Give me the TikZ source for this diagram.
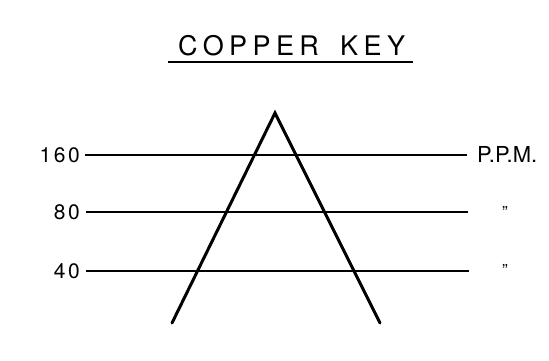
\documentclass[tikz,border=0pt]{standalone}
\usepackage{fontspec}
\setmainfont{TeX Gyre Heros}
\begin{document}
\begin{tikzpicture}[x=1pt,y=-1pt,
  lab/.style={inner sep=0pt,font=\fontsize{21}{21}\selectfont},
  titletext/.style={inner sep=0pt,anchor=base west,font=\fontsize{27}{27}\selectfont\addfontfeature{LetterSpace=20}},
  ditto/.style={inner sep=0pt,anchor=north,font=\fontsize{17}{17}\selectfont},
  thinrule/.style={line width=1.4pt},
  midrule/.style={line width=2.1pt},
  leg/.style={line width=3pt,line cap=round,line join=miter}]
\useasboundingbox (0,0) rectangle (549,360);
% title
\node[titletext] (title1) at (178,55) {COPPER};
\node[titletext] (title2) at (340,55) {KEY};
\coordinate (ulA) at (168,62);
\coordinate (ulB) at (413,62);
\draw[line width=2.8pt] (ulA) -- (ulB);
% level lines
\coordinate (a1) at (85,155); \coordinate (b1) at (467,155);
\coordinate (a2) at (86,212); \coordinate (b2) at (468,212);
\coordinate (a3) at (86,271); \coordinate (b3) at (469,271);
\draw[thinrule] (a1) -- (b1);
\draw[midrule] (a2) -- (b2);
\draw[thinrule] (a3) -- (b3);
% labels
\node[lab,anchor=east] (l160) at (80,155) {\addfontfeature{LetterSpace=12}160};
\node[lab,anchor=east] (l80) at (80,212) {\addfontfeature{LetterSpace=12}80};
\node[lab,anchor=east] (l40) at (80,271) {\addfontfeature{LetterSpace=12}40};
\node[lab,anchor=west,font=\fontsize{22}{22}\selectfont] (ppm) at (477,154) {P.P.M.};
\node[ditto] (d2) at (505,206) {"};
\node[ditto] (d3) at (505,264) {"};
% triangle
\coordinate (apex) at (275,113);
\coordinate (fl) at (172,323);
\coordinate (fr) at (380,323);
\draw[leg] (fl) -- (apex) -- (fr);
\end{tikzpicture}
\end{document}
